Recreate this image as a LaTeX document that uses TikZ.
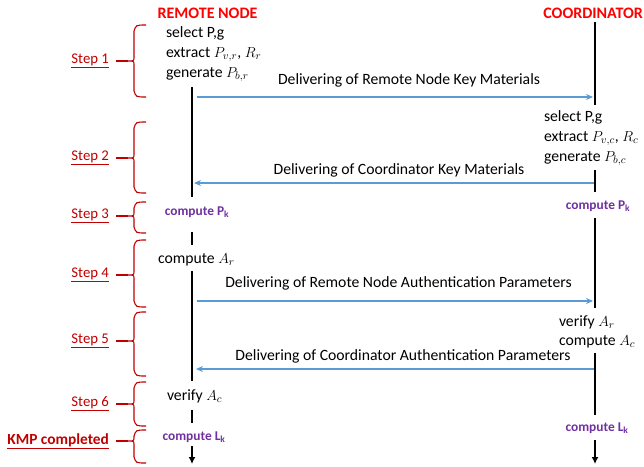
\documentclass[tikz,border=0pt]{standalone}
\usepackage{fontspec}
\setmainfont{Carlito}
\usetikzlibrary{arrows.meta}
\definecolor{titlered}{RGB}{255,0,0}
\definecolor{stepred}{RGB}{192,0,0}
\definecolor{purp}{RGB}{112,48,160}
\definecolor{msgblue}{RGB}{91,155,213}
\newcommand\stepbrace[4]{%
  \draw[brc] (146,#2) .. controls (136,#2) .. (134,{#2+6}) -- (134,{#3-4})
    .. controls (134,#3) .. (128,#3) coordinate (#1)
    .. controls (134,#3) .. (134,{#3+4}) -- (134,{#4-6})
    .. controls (136,#4) .. (146,#4);}
\begin{document}
\begin{tikzpicture}[x=1pt,y=-1pt,
  every node/.style={font=\fontsize{15.7}{20}\selectfont, inner sep=0pt, outer sep=0pt},
  title/.style={text=titlered, font=\fontsize{16}{18}\selectfont\bfseries},
  steplabel/.style={text=stepred, anchor=east, font=\fontsize{14.8}{17}\selectfont},
  act/.style={anchor=west, align=left},
  comp/.style={text=purp, font=\fontsize{13.4}{16}\selectfont\bfseries},
  life/.style={line width=2.6pt},
  lifeend/.style={line width=2pt, -{Latex[length=7pt,width=7pt]}},
  msg/.style={draw=msgblue, line width=1.6pt, -{Stealth[length=7pt,width=6pt]}},
  msglabel/.style={anchor=center},
  brc/.style={draw=stepred, line width=1.1pt},
  link/.style={draw=stepred, line width=1.1pt, shorten <=7pt},
]
\useasboundingbox (0,0) rectangle (644,466);

% titles
\node[title] (rn) at (207.5,13) {REMOTE NODE};
\node[title, anchor=east] (co) at (643,13) {COORDINATOR};

% action texts
\node[act] (a1) at (166,54) {select P,g\\extract $P_{v,r}$, $R_r$\\generate $P_{b,r}$};
\node[act] (a2) at (544,138) {select P,g\\extract $P_{v,c}$, $R_c$\\generate $P_{b,c}$};
\node[comp] (pkl) at (197,212) {compute P\textsubscript{k}};
\node[comp] (pkr) at (598,206) {compute P\textsubscript{k}};
\node[act] (a4) at (158,260) {compute $A_r$};
\node[act, font=\fontsize{15.7}{19}\selectfont] (a5) at (559,331.5) {verify $A_r$\\compute $A_c$};
\node[act] (a6) at (167,396) {verify $A_c$};
\node[comp] (lkl) at (194,437) {compute L\textsubscript{k}};
\node[comp] (lkr) at (597,428) {compute L\textsubscript{k}};

% lifelines, remote node
\coordinate (l1) at (192,87);  \coordinate (l2) at (192,197);
\coordinate (l3) at (192,232); \coordinate (l4) at (192,245);
\coordinate (l5) at (192,271); \coordinate (l6) at (192,381);
\coordinate (l7) at (192,410); \coordinate (l8) at (192,423);
\coordinate (l9) at (192,446); \coordinate (l10) at (192,464);
\draw[life] (l1) -- (l2);
\draw[life] (l3) -- (l4);
\draw[life] (l5) -- (l6);
\draw[life] (l7) -- (l8);
\draw[lifeend] (l9) -- (l10);

% lifelines, coordinator
\coordinate (r1) at (595,22);  \coordinate (r2) at (595,105);
\coordinate (r3) at (595,170); \coordinate (r4) at (595,192);
\coordinate (r5) at (595,218); \coordinate (r6) at (595,308);
\coordinate (r7) at (595,353); \coordinate (r8) at (595,415);
\coordinate (r9) at (595,440); \coordinate (r10) at (595,464);
\draw[life] (r1) -- (r2);
\draw[life] (r3) -- (r4);
\draw[life] (r5) -- (r6);
\draw[life] (r7) -- (r8);
\draw[lifeend] (r9) -- (r10);

% messages
\coordinate (m1s) at (197,97);  \coordinate (m1e) at (593,97);
\coordinate (m2s) at (594,183); \coordinate (m2e) at (194,183);
\coordinate (m3s) at (197,301); \coordinate (m3e) at (593,301);
\coordinate (m4s) at (594,369); \coordinate (m4e) at (196,369);
\draw[msg] (m1s) -- (m1e);
\draw[msg] (m2s) -- (m2e);
\draw[msg] (m3s) -- (m3e);
\draw[msg] (m4s) -- (m4e);
\node[msglabel] (t1) at (409,80) {Delivering of Remote Node Key Materials};
\node[msglabel] (t2) at (399,170) {Delivering of Coordinator Key Materials};
\node[msglabel] (t3) at (398.5,283) {Delivering of Remote Node Authentication Parameters};
\node[msglabel] (t4) at (403,356) {Delivering of Coordinator Authentication Parameters};

% step braces
\stepbrace{b1}{25}{61}{97}
\stepbrace{b2}{122}{158}{193}
\stepbrace{b3}{202}{216}{233}
\stepbrace{b4}{240}{275}{307}
\stepbrace{b5}{312}{341}{376}
\stepbrace{b6}{382}{404}{426}
\stepbrace{b7}{430}{441}{463}

% step labels
\node[steplabel] (s1) at (109,61) {\underline{Step 1}};
\node[steplabel] (s2) at (109,158) {\underline{Step 2}};
\node[steplabel] (s3) at (109,216) {\underline{Step 3}};
\node[steplabel] (s4) at (109,275) {\underline{Step 4}};
\node[steplabel] (s5) at (109,341) {\underline{Step 5}};
\node[steplabel] (s6) at (109,404) {\underline{Step 6}};
\node[steplabel, font=\fontsize{15.4}{17}\selectfont\bfseries] (s7) at (109,441) {\underline{KMP completed}};
\draw[link] (s1.east) -- (b1);
\draw[link] (s2.east) -- (b2);
\draw[link] (s3.east) -- (b3);
\draw[link] (s4.east) -- (b4);
\draw[link] (s5.east) -- (b5);
\draw[link] (s6.east) -- (b6);
\draw[link] (s7.east) -- (b7);
\end{tikzpicture}
\end{document}
